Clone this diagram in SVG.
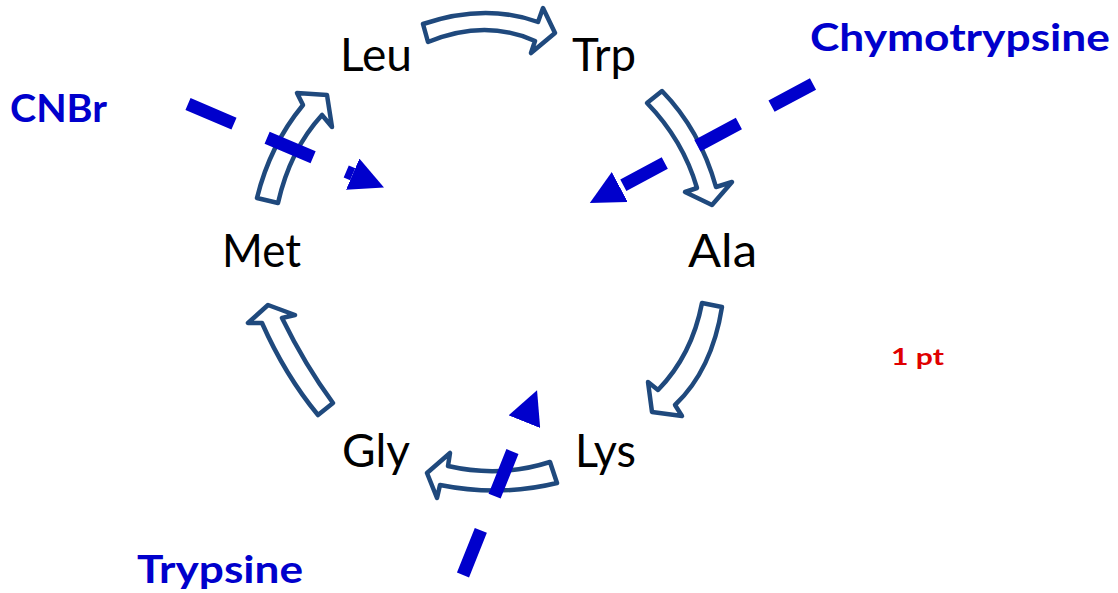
<svg xmlns="http://www.w3.org/2000/svg" width="1118" height="593" viewBox="0 0 1118 593">
<style>
.node{font-family:Lato,"Open Sans","Liberation Sans",sans-serif;font-size:46px;fill:#000}
.enz{font-family:Lato,"Liberation Sans",sans-serif;font-weight:bold;fill:#0000CC}
.blk{fill:#fff;stroke:#1F497D;stroke-width:4.5;stroke-linejoin:round}
.cut{fill:none;stroke:#0000CC;stroke-width:13}
</style>
<defs>
<marker id="ah" markerUnits="userSpaceOnUse" markerWidth="34" markerHeight="34" viewBox="0 0 34 34" refX="0" refY="17" orient="auto">
<path d="M0,0 L34,17 L0,34 Z" fill="#0000CC"/>
</marker>
</defs>
<rect width="1118" height="593" fill="#fff"/>
<g id="connectors">
<path class="blk" d="M423,24 Q485,3 538,22 L543,8 L555,33 L531,53 L535,41 Q485,18.5 428,42 Z"/>
<path class="blk" d="M647,103 L662,91 Q700,130 716,187 L732,182 L712,205 L685,192 L697,188 Q683,140 647,103 Z"/>
<path class="blk" d="M702,303 L722,307 Q712,370 675,405 L682,416 L652,412 L648,382 L658,390 Q692,355 702,303 Z"/>
<path class="blk" d="M550,462 L557,483 Q500,497 440,485 L437,498 L427,473 L450,453 L448,466 Q500,478 550,462 Z"/>
<path class="blk" d="M318,415 L333,403 Q305,365 282,318 L295,315 L268,305 L248,323 L262,323 Q285,375 318,415 Z"/>
<path class="blk" d="M257,198 Q270,145 303,105 L297,93 L327,95 L332,127 L322,115 Q290,150 278,203 Z"/>
<path class="cut" stroke-dasharray="50 36" d="M188,104 L352.7,174.2" marker-end="url(#ah)"/>
<path class="cut" stroke-dasharray="47 37" d="M813,84 L619.8,187.1" marker-end="url(#ah)"/>
<path class="cut" stroke-dasharray="48 37" d="M463,575 L524.4,421.7" marker-end="url(#ah)"/>
</g>
<g id="leu"><text class="node" x="340" y="71" textLength="72" lengthAdjust="spacingAndGlyphs">Leu</text></g>
<g id="trp"><text class="node" x="572" y="71" textLength="64" lengthAdjust="spacingAndGlyphs">Trp</text></g>
<g id="ala"><text class="node" x="688" y="267" textLength="69" lengthAdjust="spacingAndGlyphs">Ala</text></g>
<g id="lys"><text class="node" x="575" y="467" textLength="61" lengthAdjust="spacingAndGlyphs">Lys</text></g>
<g id="gly"><text class="node" x="342" y="467" textLength="68" lengthAdjust="spacingAndGlyphs">Gly</text></g>
<g id="met"><text class="node" x="222" y="267" textLength="79" lengthAdjust="spacingAndGlyphs">Met</text></g>
<g id="chymotrypsine"><text class="enz" x="810" y="51" font-size="38" textLength="300" lengthAdjust="spacingAndGlyphs">Chymotrypsine</text></g>
<g id="cnbr"><text class="enz" x="10" y="122" font-size="38" textLength="97" lengthAdjust="spacingAndGlyphs">CNBr</text></g>
<g id="trypsine"><text class="enz" x="137" y="583" font-size="38" textLength="166" lengthAdjust="spacingAndGlyphs">Trypsine</text></g>
<g id="pt"><text x="891" y="365" font-family="Lato,'Liberation Sans',sans-serif" font-weight="bold" font-size="22" fill="#E00000" textLength="53" lengthAdjust="spacingAndGlyphs">1 pt</text></g>
</svg>
